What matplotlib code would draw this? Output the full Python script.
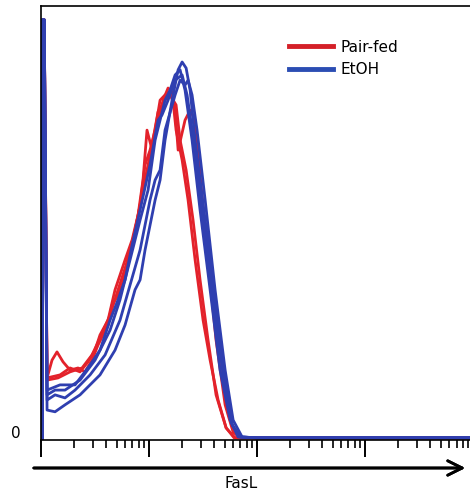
import numpy as np
import matplotlib.pyplot as plt
from matplotlib.lines import Line2D

# FasL intensity in log10 decades, counts in % of max
red_d = [
    [0.056, 0.102, 0.148, 0.204, 0.269, 0.343, 0.407, 0.472, 0.528, 0.574, 0.620, 0.657, 0.713, 0.750, 0.806,
     0.843, 0.917, 0.963, 1.009, 1.056, 1.102, 1.148, 1.194, 1.241, 1.269, 1.333, 1.380, 1.426, 1.472, 1.546,
     1.620, 1.704, 1.778, 1.843],
    [0.056, 0.176, 0.269, 0.361, 0.435, 0.500, 0.546, 0.620, 0.685, 0.731, 0.778, 0.843, 0.898, 0.944, 0.981,
     1.028, 1.083, 1.130, 1.176, 1.213, 1.250, 1.306, 1.361, 1.426, 1.500, 1.565, 1.639, 1.713, 1.796],
    [0.056, 0.157, 0.269, 0.380, 0.472, 0.546, 0.639, 0.713, 0.787, 0.861, 0.917, 0.972, 1.028, 1.083, 1.148,
     1.194, 1.250, 1.287, 1.343, 1.407, 1.472, 1.546, 1.620, 1.713, 1.787],
]
red_y = [
    [14.3, 18.4, 20.3, 18.0, 16.1, 16.6, 15.7, 18.4, 21.9, 24.2, 26.5, 31.1, 33.4, 35.7, 41.5,
     44.9, 54.1, 63.4, 66.8, 71.4, 78.3, 79.5, 80.2, 76.0, 66.8, 73.7, 76.0, 73.7, 61.1, 41.5,
     23.0, 8.1, 1.8, 0.5],
    [14.3, 15.0, 16.6, 15.7, 18.0, 20.7, 24.2, 27.6, 34.6, 38.0, 41.5, 46.1, 51.8, 59.9, 71.4,
     66.8, 73.7, 78.3, 81.1, 80.2, 71.4, 64.5, 55.3, 41.5, 27.6, 18.4, 9.2, 2.8, 0.5],
    [13.8, 14.3, 15.7, 16.6, 19.6, 23.5, 28.8, 34.6, 40.3, 47.2, 54.1, 61.1, 68.0, 75.6, 78.3,
     79.5, 77.2, 69.1, 62.2, 50.7, 36.9, 23.0, 10.4, 2.8, 0.5],
]
blue_d = [
    [0.056, 0.130, 0.222, 0.361, 0.546, 0.685, 0.778, 0.870, 0.917, 0.963, 1.056, 1.102, 1.148, 1.213, 1.269,
     1.306, 1.343, 1.380, 1.426, 1.519, 1.611, 1.704, 1.769, 1.843],
    [0.056, 0.130, 0.222, 0.315, 0.454, 0.593, 0.731, 0.824, 0.917, 1.009, 1.056, 1.102, 1.148, 1.241, 1.287,
     1.333, 1.361, 1.398, 1.444, 1.519, 1.611, 1.704, 1.778, 1.861],
    [0.056, 0.130, 0.222, 0.361, 0.500, 0.639, 0.731, 0.824, 0.917, 0.991, 1.056, 1.102, 1.148, 1.194, 1.241,
     1.287, 1.333, 1.398, 1.472, 1.565, 1.657, 1.750, 1.824],
    [0.056, 0.176, 0.315, 0.454, 0.546, 0.639, 0.713, 0.778, 0.843, 0.917, 1.009, 1.083, 1.120, 1.176, 1.241,
     1.306, 1.352, 1.426, 1.500, 1.593, 1.685, 1.769, 1.843],
]
blue_y = [
    [6.9, 6.5, 8.1, 10.4, 15.0, 20.7, 26.5, 34.6, 36.9, 43.8, 55.3, 59.9, 69.1, 78.3, 85.3,
     87.1, 85.7, 80.6, 69.1, 50.7, 32.3, 13.8, 3.5, 0.7],
    [9.2, 10.4, 9.7, 11.5, 15.0, 19.6, 27.6, 35.7, 43.8, 55.3, 59.9, 62.2, 71.4, 79.5, 82.9,
     81.8, 82.9, 79.5, 71.4, 55.3, 34.6, 16.1, 4.6, 0.7],
    [10.4, 11.5, 11.5, 13.8, 18.4, 25.3, 32.3, 41.5, 50.7, 57.6, 69.1, 73.7, 78.3, 80.6, 84.1,
     85.3, 80.6, 69.1, 53.0, 34.6, 16.1, 4.6, 0.7],
    [11.5, 12.7, 12.7, 17.3, 20.7, 27.6, 32.3, 36.9, 44.9, 53.0, 63.4, 73.7, 74.9, 78.3, 82.9,
     84.1, 79.5, 66.8, 50.7, 32.3, 15.0, 3.5, 0.7],
]
# first-channel spike and flat tail shared by all samples
spike_d = [0.012, 0.012, 0.03]
spike_y = [0.0, 96.8, 96.8]
tail_d = [2.0, 3.97]
tail_y = [0.5, 0.5]

red = '#e3222b'
blue = '#2f3fb0'

fig = plt.figure(figsize=(4.7, 4.98), dpi=100)
ax = fig.add_axes([41/470, 1 - 440/498, 429/470, 434/498])


def draw(d, y, c):
    dd = np.array(spike_d + d + tail_d)
    yy = np.array(spike_y + y + tail_y)
    ax.plot(10 ** dd, yy, color=c, lw=2.0, solid_joinstyle='round')


for d, y in zip(red_d, red_y):
    draw(d, y, red)
for d, y in zip(blue_d, blue_y):
    draw(d, y, blue)

ax.set_xscale('log')
ax.set_xlim(1, 10 ** 3.97)
ax.set_ylim(0, 100)
ax.spines['right'].set_visible(False)
for s in ['top', 'left', 'bottom']:
    ax.spines[s].set_linewidth(1.2)
ax.set_yticks([])
ax.tick_params(axis='x', which='major', length=12, width=1.4, labelbottom=False)
ax.tick_params(axis='x', which='minor', length=6, width=1.2)
ax.text(-0.058, 0.016, '0', transform=ax.transAxes, ha='center', va='center', fontsize=11)

handles = [Line2D([], [], color='#d42028', lw=3.5), Line2D([], [], color='#2b4db3', lw=3.5)]
fig.legend(handles, ['Pair-fed', 'EtOH'], loc='upper left', bbox_to_anchor=(0.585, 0.948),
           frameon=False, fontsize=11, handlelength=2.9, handletextpad=0.5, labelspacing=0.5)

fig.add_artist(plt.annotate('', xy=(468/470, 1 - 468/498), xytext=(31/470, 1 - 468/498),
                            xycoords='figure fraction',
                            arrowprops=dict(arrowstyle='->', lw=2, color='black', mutation_scale=26)))
fig.text(241/470, 1 - 483/498, 'FasL', ha='center', va='center', fontsize=11)

fig.savefig('out.png', dpi=100)
